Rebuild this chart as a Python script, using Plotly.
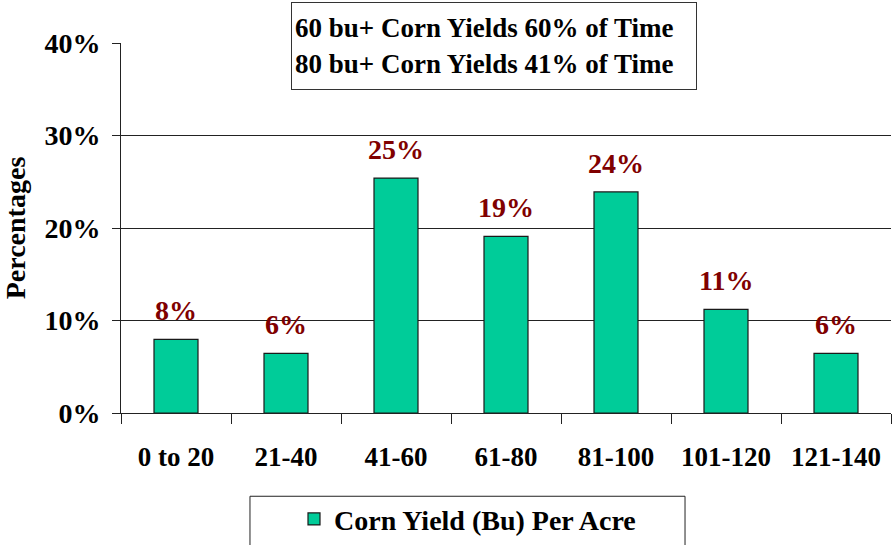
import plotly.graph_objects as go

categories = ["0 to 20", "21-40", "41-60", "61-80", "81-100", "101-120", "121-140"]
values = [7.96, 6.45, 25.4, 19.1, 23.9, 11.2, 6.45]
labels = ["8%", "6%", "25%", "19%", "24%", "11%", "6%"]
y_ticks = [0, 10, 20, 30, 40]
y_tick_labels = ["0%", "10%", "20%", "30%", "40%"]
series_name = "Corn Yield (Bu) Per Acre"
note_lines = ["60 bu+ Corn Yields 60% of Time", "80 bu+ Corn Yields 41% of Time"]

FONT = "Liberation Serif"

fig = go.Figure()
fig.add_trace(go.Bar(
    x=categories, y=values, name=series_name,
    marker=dict(color="#00CC99", line=dict(color="#1a1a1a", width=1.2)),
    width=0.4,
))

for c, v, t in zip(categories, values, labels):
    fig.add_annotation(x=c, y=v, text=t, showarrow=False, yanchor="bottom", yshift=11,
                       font=dict(family=FONT, size=28, color="#800000", weight="bold"))

fig.add_annotation(
    xref="paper", yref="paper", x=0.4844, y=1.11, xanchor="center", yanchor="top",
    text="<br>".join(note_lines), align="left", showarrow=False,
    font=dict(family=FONT, size=27, color="black", weight="bold"),
    bordercolor="#333", borderwidth=1, bgcolor="white", width=398, height=80, borderpad=3,
)

fig.add_shape(type="rect", xref="paper", yref="paper", x0=0.1675, x1=0.7325, y0=-0.37, y1=-0.225,
              line=dict(color="#222", width=1), fillcolor="rgba(0,0,0,0)")

fig.update_layout(
    width=892, height=545,
    margin=dict(l=121, r=1, t=43, b=126),
    plot_bgcolor="white", paper_bgcolor="white",
    showlegend=True,
    legend=dict(x=0.45, y=-0.287, xanchor="center", yanchor="middle", orientation="h",
                font=dict(family=FONT, size=28, color="black", weight="bold"),
                bgcolor="rgba(0,0,0,0)"),
)
fig.update_xaxes(
    type="category", tickson="boundaries", ticks="outside", ticklen=10, tickcolor="#222",
    showline=True, linecolor="#222", linewidth=1, automargin=False,
    tickfont=dict(family=FONT, size=27, color="black", weight="bold"),
    ticklabelstandoff=20,
    showgrid=False,
)
fig.update_yaxes(
    range=[0, 40], tickvals=y_ticks, ticktext=y_tick_labels,
    ticks="outside", ticklen=8, tickcolor="#222",
    showline=True, linecolor="#222", linewidth=1, automargin=False,
    showgrid=True, gridcolor="#222", gridwidth=1, zeroline=False,
    tickfont=dict(family=FONT, size=28, color="black", weight="bold"),
    ticklabelstandoff=6,
    title=dict(text="Percentages", font=dict(family=FONT, size=28, color="black", weight="bold"), standoff=14),
)

fig.write_html("out.html", config={"displayModeBar": False},
               post_script="document.body.style.margin='0';")
